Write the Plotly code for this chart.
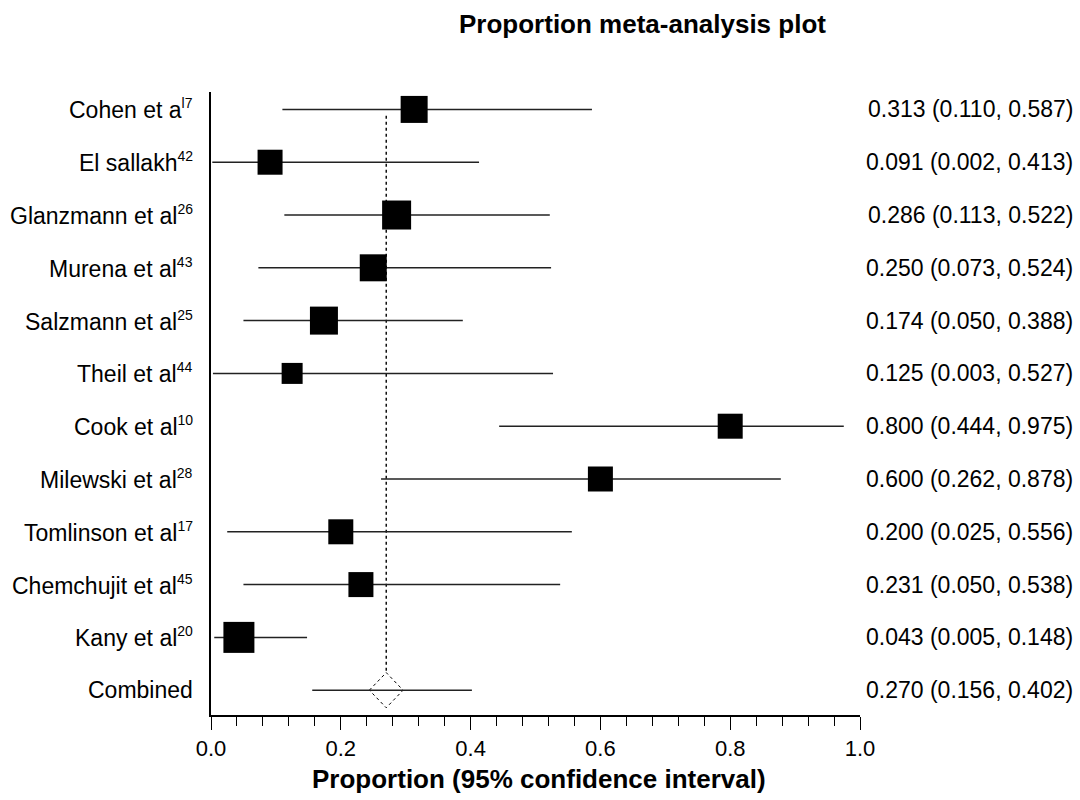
import plotly.graph_objects as go

# ---- data ----
study_names = ["Cohen et a", "El sallakh", "Glanzmann et al", "Murena et al", "Salzmann et al",
               "Theil et al", "Cook et al", "Milewski et al", "Tomlinson et al", "Chemchujit et al",
               "Kany et al"]
study_refs = ["l7", "42", "26", "43", "25", "44", "10", "28", "17", "45", "20"]
estimates = [0.313, 0.091, 0.286, 0.250, 0.174, 0.125, 0.800, 0.600, 0.200, 0.231, 0.043]
lower = [0.110, 0.002, 0.113, 0.073, 0.050, 0.003, 0.444, 0.262, 0.025, 0.050, 0.005]
upper = [0.587, 0.413, 0.522, 0.524, 0.388, 0.527, 0.975, 0.878, 0.556, 0.538, 0.148]
box_sizes = [27, 25, 29, 27, 28, 21, 25, 25, 25, 25, 31]

combined_label = "Combined"
combined_est = 0.270
combined_low = 0.156
combined_up = 0.402

x_tickvals = [0.0, 0.2, 0.4, 0.6, 0.8, 1.0]
x_ticktext = ["0.0", "0.2", "0.4", "0.6", "0.8", "1.0"]

FONT = "Liberation Sans, Arial, Helvetica, sans-serif"
DIAMOND_HALF_W = 0.026
DIAMOND_HALF_H = 0.333

n = len(study_names)
rows = list(range(n))
comb_row = n

fig = go.Figure()

# CI lines
cx, cy = [], []
for i in rows:
    cx += [lower[i], upper[i], None]
    cy += [i, i, None]
cx += [combined_low, combined_up, None]
cy += [comb_row, comb_row, None]

# dashed reference line
fig.add_trace(go.Scatter(x=[combined_est, combined_est], y=[0.12, comb_row - DIAMOND_HALF_H],
                         mode="lines", line=dict(color="black", width=1.4, dash="3px,3px"),
                         hoverinfo="skip", showlegend=False))

# diamond
fig.add_trace(go.Scatter(
    x=[combined_est - DIAMOND_HALF_W, combined_est, combined_est + DIAMOND_HALF_W, combined_est,
       combined_est - DIAMOND_HALF_W],
    y=[comb_row, comb_row - DIAMOND_HALF_H, comb_row, comb_row + DIAMOND_HALF_H, comb_row],
    mode="lines", fill="toself", fillcolor="white",
    line=dict(color="black", width=1, dash="dot"), showlegend=False, hoverinfo="skip"))

fig.add_trace(go.Scatter(x=cx, y=cy, mode="lines", line=dict(color="#222222", width=1.5),
                         showlegend=False, hoverinfo="skip"))

# squares
fig.add_trace(go.Scatter(x=estimates, y=rows, mode="markers", opacity=1,
                         marker=dict(symbol="square", size=box_sizes, color="black", opacity=1,
                                     line=dict(width=0)),
                         showlegend=False))

annotations = []
labels = [f"{nm}<sup><span style='font-size:14px'>{rf}</span></sup>"
          for nm, rf in zip(study_names, study_refs)] + [combined_label]
texts = [f"{e:.3f} ({l:.3f}, {u:.3f})" for e, l, u in zip(estimates, lower, upper)]
texts.append(f"{combined_est:.3f} ({combined_low:.3f}, {combined_up:.3f})")
for i, (lab, t) in enumerate(zip(labels, texts)):
    annotations.append(dict(x=0, xref="paper", y=i, yref="y", text=lab, showarrow=False,
                            xanchor="right", yanchor="middle", xshift=-16,
                            font=dict(family=FONT, size=23, color="black")))
    annotations.append(dict(x=(1075 - 211) / 649, xref="paper", y=i, yref="y", text=t, showarrow=False,
                            xanchor="right", yanchor="middle",
                            font=dict(family=FONT, size=23, color="black")))

annotations.append(dict(x=(642 - 211) / 649, xref="paper", y=(715 - 24) / 623, yref="paper",
                        text="<b>Proportion meta-analysis plot</b>", showarrow=False,
                        xanchor="center", yanchor="middle",
                        font=dict(family=FONT, size=26, color="black")))
annotations.append(dict(x=(539 - 211) / 649, xref="paper", y=-(779 - 715) / 623, yref="paper",
                        text="<b>Proportion (95% confidence interval)</b>", showarrow=False,
                        xanchor="center", yanchor="middle",
                        font=dict(family=FONT, size=26, color="black")))

fig.update_layout(
    width=1080, height=800,
    margin=dict(l=211, r=220, t=92, b=85),
    paper_bgcolor="white", plot_bgcolor="white",
    annotations=annotations,
    xaxis=dict(range=[0, 1], tickvals=x_tickvals, ticktext=x_ticktext, ticks="outside",
               ticklen=13, tickwidth=1.3, tickcolor="black", showline=True, linecolor="black",
               linewidth=1.5, showgrid=False, zeroline=False,
               tickfont=dict(family=FONT, size=22, color="black"),
               minor=dict(dtick=0.04, ticks="outside", ticklen=9, tickwidth=1.3, tickcolor="black",
                          showgrid=False)),
    yaxis=dict(range=[n + 0.47, -0.33], showticklabels=False, ticks="", showline=True,
               linecolor="black", linewidth=1.5, showgrid=False, zeroline=False),
)

fig.write_html("out.html", config={"displayModeBar": False},
               post_script="document.body.style.margin='0';")
